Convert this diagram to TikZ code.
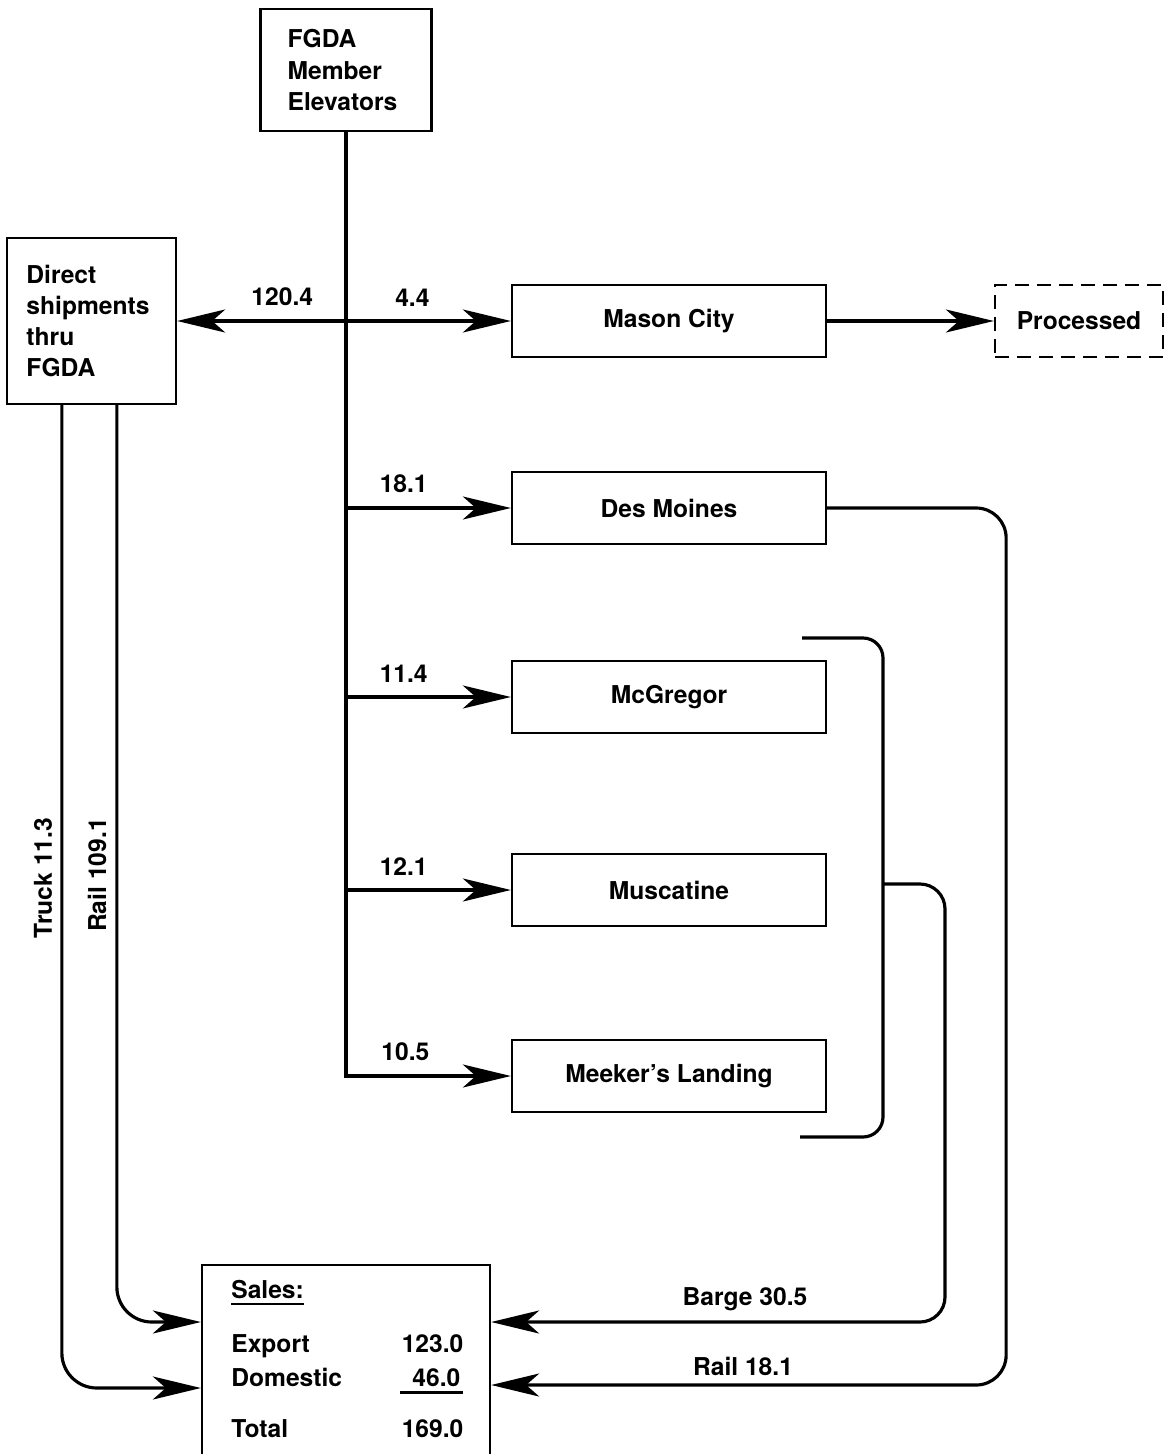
\documentclass[tikz,border=0pt]{standalone}
\usepackage{fontspec}
\setmainfont{TeX Gyre Heros}
\usetikzlibrary{arrows.meta, positioning, calc}

% heavy underline, as on the typed sheet
\newcommand{\fatline}[1]{\leavevmode\vtop{\hbox{#1}\kern2.4pt\hrule height 1.5pt}}

\begin{document}
\begin{tikzpicture}[
        x=0.2mm, y=-0.2mm,
        >={Stealth[length=9.6mm, width=4.6mm, inset=2.6mm]},
        txt/.style={font=\fontsize{14}{17.8}\selectfont\bfseries},
        box/.style={draw, line width=1.3pt, align=left, inner sep=0pt, txt},
        site/.style={box, minimum width=62.8mm, minimum height=14.4mm},
        flow/.style={line width=1.8pt}
    ]
        \useasboundingbox (0,0) rectangle (1175,1454);

        \node[box, minimum width=34.2mm, minimum height=24.4mm] (fgda) at (346,70)
            {FGDA\\Member\\Elevators\hbox to 1.4mm{}};
        \node[box, minimum width=33.8mm, minimum height=33.2mm] (direct) at (91.5,321)
            {Direct\\shipments\hbox to 1.4mm{}\\thru\\FGDA};
        \node[site] (mason)     at (669,321)  {Mason City};
        \node[box, dashed, dash pattern=on 2.8mm off 1.6mm, minimum width=33.6mm,
              minimum height=14.4mm] (proc) at (1079,321) {Processed};
        \node[site] (desmoines) at (669,508)  {Des Moines};
        \node[site] (mcgregor)  at (669,697)  {McGregor};
        \node[site] (muscatine) at (669,890)  {Muscatine};
        \node[site] (meeker)    at (669,1076) {Meeker’s Landing};

        % sales box runs off the bottom of the page
        \node[draw, line width=1.3pt, minimum width=57.6mm, minimum height=42mm,
              anchor=north] (sales) at (346,1264) {};
        \node[txt, anchor=north west, inner sep=0pt] (salestab) at (231,1276) {%
            \begin{tabular*}{46.4mm}{@{}l@{\extracolsep{\fill}}r@{}}
                \fatline{Sales:} & \\[13pt]
                Export   & 123.0 \\[1.6pt]
                Domestic & \fatline{\kern2.4mm 46.0\kern0.6mm} \\[11pt]
                Total    & 169.0
            \end{tabular*}};

        \coordinate (rin)   at ($(sales.north west)+(0,58)$);
        \coordinate (tin)   at ($(sales.north west)+(0,124)$);
        \coordinate (bin)   at ($(sales.north east)+(0,58)$);
        \coordinate (rrin)  at ($(sales.north east)+(0,121)$);
        \coordinate (dtruck) at ($(direct.south west)+(56,0)$);
        \coordinate (drail)  at ($(direct.south west)+(111,0)$);
        \coordinate (brtop) at (802,638);
        \coordinate (brbot) at (800,1137);
        \coordinate (brmid) at (883,884);

        % trunk and branches
        \draw[flow, ->] (fgda.south) |- (meeker.west)
            node[txt, pos=0.68, above=1.5mm] {10.5};
        \draw[flow, ->] (fgda.south |- desmoines.west) -- (desmoines.west)
            node[txt, pos=0.35, above=1.5mm] {18.1};
        \draw[flow, ->] (fgda.south |- mcgregor.west) -- (mcgregor.west)
            node[txt, pos=0.35, above=1.5mm] {11.4};
        \draw[flow, ->] (fgda.south |- muscatine.west) -- (muscatine.west)
            node[txt, pos=0.35, above=1.5mm] {12.1};
        \draw[flow, <->] (direct) -- (mason)
            node[txt, pos=0.315, above=1.5mm] {120.4}
            node[txt, pos=0.705, above=1.5mm] {4.4};
        \draw[flow, ->] (mason) -- (proc);

        % river terminals
        \draw[flow, rounded corners=4mm] (brtop) -| (brmid) |- (brbot);
        \draw[flow, ->, rounded corners=5mm] (brmid) -- ++(62,0) |- (bin);
        \draw[flow, ->, rounded corners=6mm] (desmoines.east) -- ++(179,0) |- (rrin);
        \node[txt] (bargelbl) at (745,1299) {Barge 30.5};
        \node[txt] (raillbl)  at (743,1366) {Rail 18.1};

        % direct shipments
        \draw[flow, ->, rounded corners=7mm] (drail) |- (rin);
        \draw[flow, ->, rounded corners=7mm] (dtruck) |- (tin);
        \node[txt, rotate=90] (trucklbl) at (43,878) {Truck 11.3};
        \node[txt, rotate=90] (raillbl2) at (97,875) {Rail 109.1};
    \end{tikzpicture}
\end{document}
